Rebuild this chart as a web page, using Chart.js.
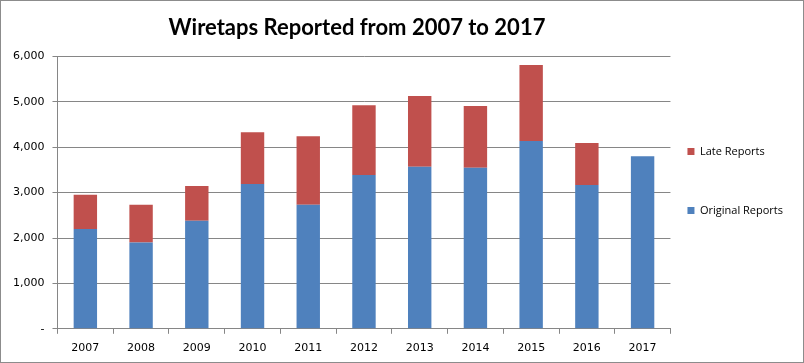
<!DOCTYPE html>
<html>
<head>
<meta charset="utf-8">
<script src="https://cdn.jsdelivr.net/npm/chart.js@4/dist/chart.umd.min.js"></script>
<style>
  html, body { margin: 0; padding: 0; background: #fff; }
  #wrap { position: relative; width: 802px; height: 361px; border: 1px solid #8c8c8c; }
  canvas { display: block; }
</style>
</head>
<body>
<div id="wrap"><canvas id="c" width="802" height="361"></canvas></div>
<script>
const years = ['2007','2008','2009','2010','2011','2012','2013','2014','2015','2016','2017'];
const originalReports = [2200, 1900, 2380, 3190, 2730, 3385, 3567, 3545, 4138, 3165, 3802];
const lateReports     = [750,  830,  765,  1140, 1510, 1540, 1560, 1360, 1670, 925,  0];
const yTicks = [0, 1000, 2000, 3000, 4000, 5000, 6000];

const gridColor = '#868686';
const LEGEND_GAP = 17;     // gap between plot area and legend markers
const LEGEND_PAD = 48;     // vertical spacing between legend entries
const TITLE_SHIFT = 7;     // title sits slightly left of plot centre

const nudge = {
  id: 'nudge',
  afterLayout(chart) {
    const lg = chart.legend;
    if (lg) {
      const dx = (lg.left + LEGEND_PAD) - (chart.chartArea.right + LEGEND_GAP);
      lg.left -= dx; lg.right -= dx;
      lg.top -= 1; lg.bottom -= 1;
    }
    const t = chart.titleBlock;
    if (t) { t.left -= TITLE_SHIFT; t.right -= TITLE_SHIFT; }
  }
};

new Chart(document.getElementById('c'), {
  type: 'bar',
  data: {
    labels: years,
    datasets: [
      { label: 'Original Reports', data: originalReports, backgroundColor: '#4F81BD', borderWidth: 0 },
      { label: 'Late Reports', data: lateReports, backgroundColor: '#C0504D', borderWidth: 0 }
    ]
  },
  plugins: [nudge],
  options: {
    responsive: false,
    animation: false,
    devicePixelRatio: 1,
    layout: { padding: { left: 4, right: -21, top: 0, bottom: -1 } },
    datasets: { bar: { categoryPercentage: 1.0, barPercentage: 0.42 } },
    plugins: {
      title: {
        display: true,
        text: 'Wiretaps Reported from 2007 to 2017',
        fullSize: false,
        color: '#000',
        font: { family: 'Lato', size: 22, weight: 'bold' },
        padding: { top: 14, bottom: 15 }
      },
      legend: {
        position: 'right',
        reverse: true,
        align: 'center',
        labels: {
          boxWidth: 7,
          boxHeight: 7,
          padding: LEGEND_PAD,
          color: '#000',
          font: { family: 'Open Sans', size: 11 }
        }
      },
      tooltip: { enabled: false }
    },
    scales: {
      x: {
        stacked: true,
        offset: true,
        grid: { offset: true, drawOnChartArea: false, drawTicks: true, tickLength: 5, color: gridColor },
        border: { display: true, color: gridColor },
        ticks: { color: '#000', font: { family: 'DejaVu Sans', size: 11 }, padding: 8, maxRotation: 0 }
      },
      y: {
        stacked: true,
        min: 0,
        max: 6000,
        afterBuildTicks: (axis) => { axis.ticks = yTicks.map(v => ({ value: v })); },
        grid: { color: gridColor, drawTicks: true, tickLength: 5 },
        border: { display: true, color: gridColor },
        ticks: {
          color: '#000',
          font: { family: 'DejaVu Sans', size: 11 },
          padding: 8,
          callback: (v) => v === 0 ? '-' : v.toLocaleString('en-US')
        }
      }
    }
  }
});
</script>
</body>
</html>
